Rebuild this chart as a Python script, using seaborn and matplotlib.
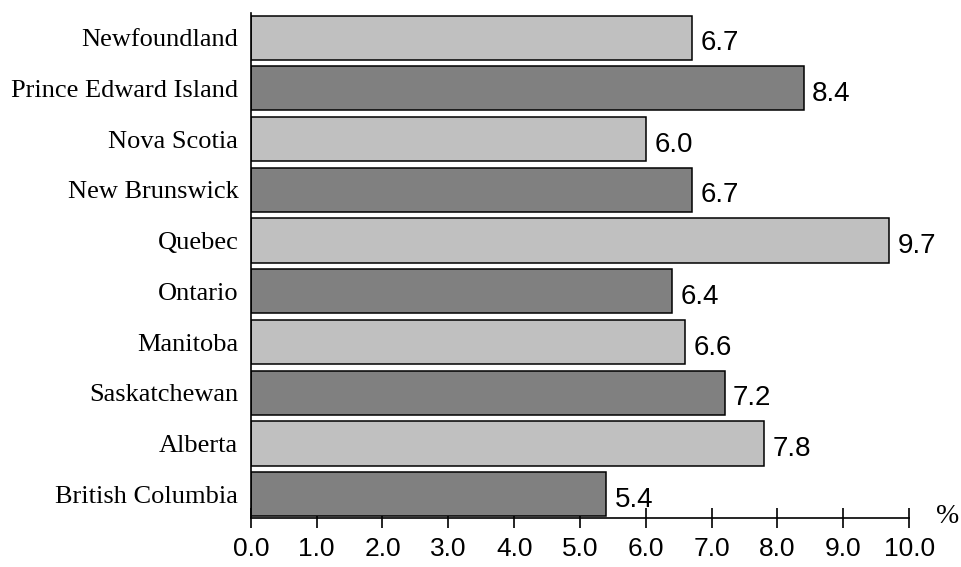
import matplotlib.pyplot as plt
import seaborn as sns
import pandas as pd

# data
provinces = ["Newfoundland", "Prince Edward Island", "Nova Scotia", "New Brunswick",
             "Quebec", "Ontario", "Manitoba", "Saskatchewan", "Alberta", "British Columbia"]
rates = [6.7, 8.4, 6.0, 6.7, 9.7, 6.4, 6.6, 7.2, 7.8, 5.4]
bar_colors = ["#C0C0C0", "#808080"] * 5
xticks = [0, 1, 2, 3, 4, 5, 6, 7, 8, 9, 10]

sns.set_style("white")
plt.rcParams['font.family'] = ['Liberation Sans', 'DejaVu Sans']
plt.rcParams['text.color'] = 'black'
plt.rcParams['xtick.color'] = 'black'
plt.rcParams['ytick.color'] = 'black'

df = pd.DataFrame({"province": provinces, "rate": rates})

fig = plt.figure(figsize=(9.61, 5.67), dpi=100)
ax = fig.add_axes([0.261, 0.0864, 0.685, 0.891])

sns.barplot(data=df, x="rate", y="province", hue="province", palette=bar_colors,
            legend=False, orient="h", width=0.87, edgecolor="black", linewidth=1.1,
            saturation=1, ax=ax)

ax.set_xlim(0, 10)
ax.set_ylim(len(provinces) - 0.53, -0.49)
ax.set_xlabel("")
ax.set_ylabel("")

for s in ["top", "right"]:
    ax.spines[s].set_visible(False)
for s in ["left", "bottom"]:
    ax.spines[s].set_color("black")
    ax.spines[s].set_linewidth(1.2)

ax.set_xticks(xticks)
ax.set_xticklabels([f"{t:.1f}" for t in xticks], fontsize=19)
ax.tick_params(axis="x", bottom=True, direction="inout", length=15, width=1.2,
               color="black", labelcolor="black", pad=6)
ax.tick_params(axis="y", left=False, length=0, pad=9, labelcolor="black")
for lab in ax.get_yticklabels():
    lab.set_fontfamily("Liberation Serif")
    lab.set_fontsize(19)

# value labels
for i, v in enumerate(rates):
    ax.annotate(f"{v:.1f}", (v, i), xytext=(6, -4), textcoords="offset points",
                ha="left", va="center", fontsize=20, color="black")

ax.text(1.059, 0.003, "%", transform=ax.transAxes, ha="center", va="center",
        fontsize=20, fontfamily="Liberation Serif", color="black")

fig.savefig("out.png", dpi=100)
